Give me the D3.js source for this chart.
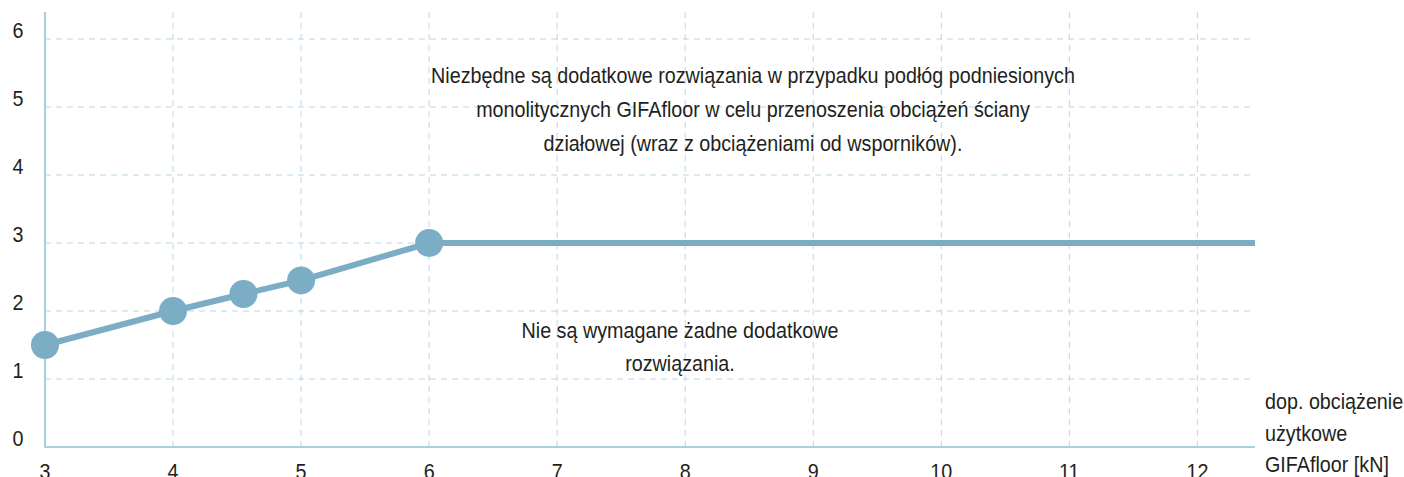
<!DOCTYPE html>
<html>
<head>
<meta charset="utf-8">
<script src="https://cdn.jsdelivr.net/npm/d3@7"></script>
<style>
  html, body { margin: 0; padding: 0; background: #ffffff; }
  svg { display: block; }
  text { font-family: "Liberation Sans", Arial, sans-serif; fill: #231f20; }
</style>
</head>
<body>
<svg id="chart" width="1404" height="477"></svg>
<script>
// ---- data ----
const xValues = [3, 4, 4.55, 5, 6, 12.45];
const yValues = [1.5, 2.0, 2.25, 2.45, 3.0, 3.0];
const markerX = [3, 4, 4.55, 5, 6];
const markerY = [1.5, 2.0, 2.25, 2.45, 3.0];
const xTicks = [3, 4, 5, 6, 7, 8, 9, 10, 11, 12];
const yTicks = [0, 1, 2, 3, 4, 5, 6];
const upperText = [
  "Niezbędne są dodatkowe rozwiązania w przypadku podłóg podniesionych",
  "monolitycznych GIFAfloor w celu przenoszenia obciążeń ściany",
  "działowej (wraz z obciążeniami od wsporników)."
];
const lowerText = [
  "Nie są wymagane żadne dodatkowe",
  "rozwiązania."
];
const xAxisTitle = ["dop. obciążenie", "użytkowe", "GIFAfloor [kN]"];

// ---- layout ----
const svg = d3.select("#chart");
const x = d3.scaleLinear().domain([3, 12.45]).range([45, 1255]);
const y = d3.scaleLinear().domain([0, 6]).range([447, 39]);
const yTop = 12;

const gridColor = "#b9d7e6";
const axisColor = "#a9cfe1";
const lineColor = "#7badc5";
const fontSize = 22.5;
const squeeze = 0.877;

function placeText(sel, fx, fy) {
  sel.attr("transform", (d, i) => `translate(${fx(d, i)},${fy(d, i)}) scale(${squeeze},1)`)
     .attr("font-size", fontSize);
}

// horizontal grid
svg.append("g").selectAll("line").data(yTicks.filter(d => d > 0)).join("line")
  .attr("x1", x(3)).attr("x2", x(12.45))
  .attr("y1", d => y(d)).attr("y2", d => y(d))
  .attr("stroke", gridColor).attr("stroke-width", 1)
  .attr("stroke-dasharray", "6,5");

// vertical grid
svg.append("g").selectAll("line").data(xTicks.filter(d => d > 3)).join("line")
  .attr("x1", d => x(d)).attr("x2", d => x(d))
  .attr("y1", yTop).attr("y2", y(0))
  .attr("stroke", gridColor).attr("stroke-width", 1)
  .attr("stroke-dasharray", "6,5");

// axes lines
svg.append("line").attr("x1", x(3)).attr("x2", x(3)).attr("y1", yTop).attr("y2", y(0) + 1)
  .attr("stroke", axisColor).attr("stroke-width", 2.2);
svg.append("line").attr("x1", x(3) - 1).attr("x2", x(12.45)).attr("y1", y(0)).attr("y2", y(0))
  .attr("stroke", axisColor).attr("stroke-width", 2.2);

// y tick labels
svg.append("g").selectAll("text").data(yTicks).join("text")
  .attr("text-anchor", "middle")
  .call(placeText, () => 18, d => y(d) - 1)
  .text(d => d);

// x tick labels
svg.append("g").selectAll("text").data(xTicks).join("text")
  .attr("text-anchor", "middle")
  .call(placeText, d => x(d), () => 479)
  .text(d => d);

// series line
const pts = xValues.map((v, i) => [v, yValues[i]]);
svg.append("path").datum(pts)
  .attr("d", d3.line().x(d => x(d[0])).y(d => y(d[1])))
  .attr("fill", "none").attr("stroke", lineColor).attr("stroke-width", 6);

// markers
svg.append("g").selectAll("circle").data(markerX.map((v, i) => [v, markerY[i]])).join("circle")
  .attr("cx", d => x(d[0])).attr("cy", d => y(d[1])).attr("r", 14)
  .attr("fill", lineColor);

// upper annotation
svg.append("g").selectAll("text").data(upperText).join("text")
  .attr("text-anchor", "middle")
  .call(placeText, () => 753, (d, i) => 83 + i * 34)
  .text(d => d);

// lower annotation
svg.append("g").selectAll("text").data(lowerText).join("text")
  .attr("text-anchor", "middle")
  .call(placeText, () => 680, (d, i) => 338 + i * 33)
  .text(d => d);

// x axis title
svg.append("g").selectAll("text").data(xAxisTitle).join("text")
  .attr("text-anchor", "start")
  .call(placeText, () => 1265, (d, i) => 409 + i * 31.5)
  .text(d => d);
</script>
</body>
</html>
